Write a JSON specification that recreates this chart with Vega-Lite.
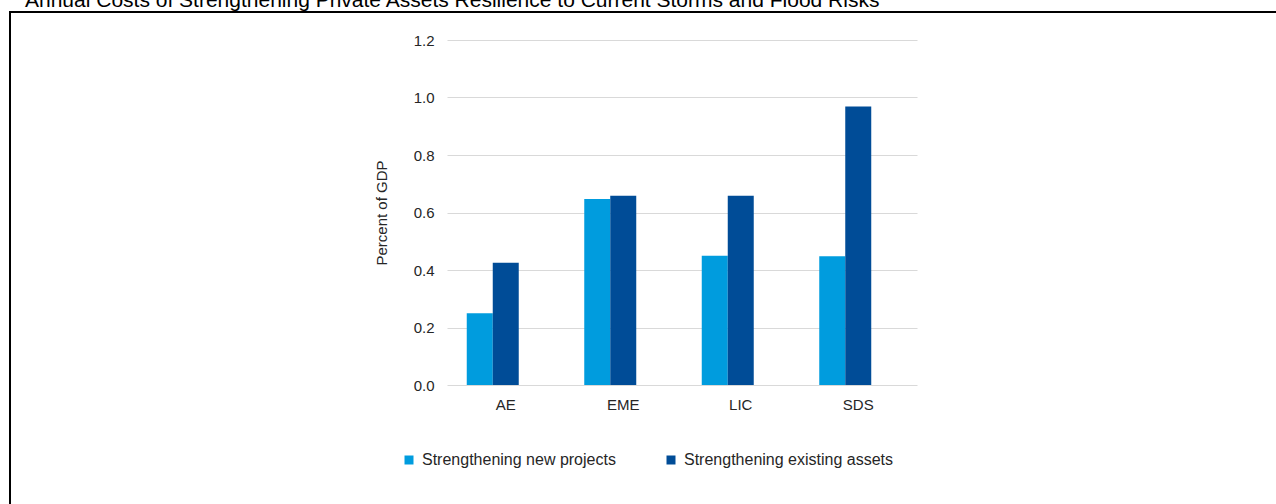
{
  "$schema": "https://vega.github.io/schema/vega-lite/v6.json",
  "autosize": {"type": "none"},
  "padding": {"left": 10, "top": 12, "right": 0, "bottom": 0},
  "width": 1280,
  "height": 520,
  "background": "white",
  "title": {
    "text": "Annual Costs of Strengthening Private Assets Resilience to Current Storms and Flood Risks",
    "anchor": "start",
    "frame": "group",
    "font": "Liberation Sans",
    "fontSize": 21,
    "fontWeight": "normal",
    "color": "#000000",
    "baseline": "bottom",
    "offset": 0,
    "dx": 15,
    "dy": 20
  },
  "data": {
    "values": [
      {"group": "AE", "series": "Strengthening new projects", "value": 0.25},
      {"group": "AE", "series": "Strengthening existing assets", "value": 0.425},
      {"group": "EME", "series": "Strengthening new projects", "value": 0.647},
      {"group": "EME", "series": "Strengthening existing assets", "value": 0.658},
      {"group": "LIC", "series": "Strengthening new projects", "value": 0.45},
      {"group": "LIC", "series": "Strengthening existing assets", "value": 0.658},
      {"group": "SDS", "series": "Strengthening new projects", "value": 0.448},
      {"group": "SDS", "series": "Strengthening existing assets", "value": 0.969}
    ]
  },
  "mark": {"type": "bar"},
  "encoding": {
    "x": {
      "field": "group",
      "type": "nominal",
      "sort": ["AE", "EME", "LIC", "SDS"],
      "scale": {"range": [437, 907], "paddingInner": 0.3362, "paddingOuter": 0.1681},
      "axis": {
        "title": null,
        "labelAngle": 0,
        "offset": -147,
        "domain": false,
        "ticks": false,
        "grid": false,
        "labelPadding": 12,
        "labelFont": "Liberation Sans",
        "labelFontSize": 15,
        "labelColor": "#262626"
      }
    },
    "xOffset": {
      "field": "series",
      "type": "nominal",
      "scale": {
        "domain": ["Strengthening new projects", "Strengthening existing assets", "blank"],
        "paddingInner": 0,
        "paddingOuter": 0
      }
    },
    "y": {
      "field": "value",
      "type": "quantitative",
      "scale": {"domain": [0, 1.2], "range": [373, 28], "nice": false, "zero": true},
      "axis": {
        "title": "Percent of GDP",
        "values": [0, 0.2, 0.4, 0.6, 0.8, 1.0, 1.2],
        "format": ".1f",
        "offset": -437,
        "domain": false,
        "ticks": false,
        "labelPadding": 13,
        "labelFont": "Liberation Sans",
        "labelFontSize": 15,
        "labelColor": "#262626",
        "gridColor": "#d9d9d9",
        "gridWidth": 1,
        "titleFont": "Liberation Sans",
        "titleFontSize": 15,
        "titleFontWeight": "normal",
        "titleColor": "#262626",
        "titlePadding": 24
      }
    },
    "color": {
      "field": "series",
      "type": "nominal",
      "scale": {
        "domain": ["Strengthening new projects", "Strengthening existing assets"],
        "range": ["#009CDE", "#004C97"]
      },
      "legend": {
        "title": null,
        "orient": "none",
        "direction": "horizontal",
        "legendX": 391,
        "legendY": 440,
        "padding": 0,
        "symbolType": "square",
        "symbolSize": 81,
        "symbolStrokeWidth": 0,
        "labelOffset": 5,
        "labelLimit": 400,
        "columnPadding": 47,
        "labelFont": "Liberation Sans",
        "labelFontSize": 16,
        "labelColor": "#262626"
      }
    }
  },
  "config": {
    "view": {"stroke": "#000000", "strokeWidth": 2}
  }
}
